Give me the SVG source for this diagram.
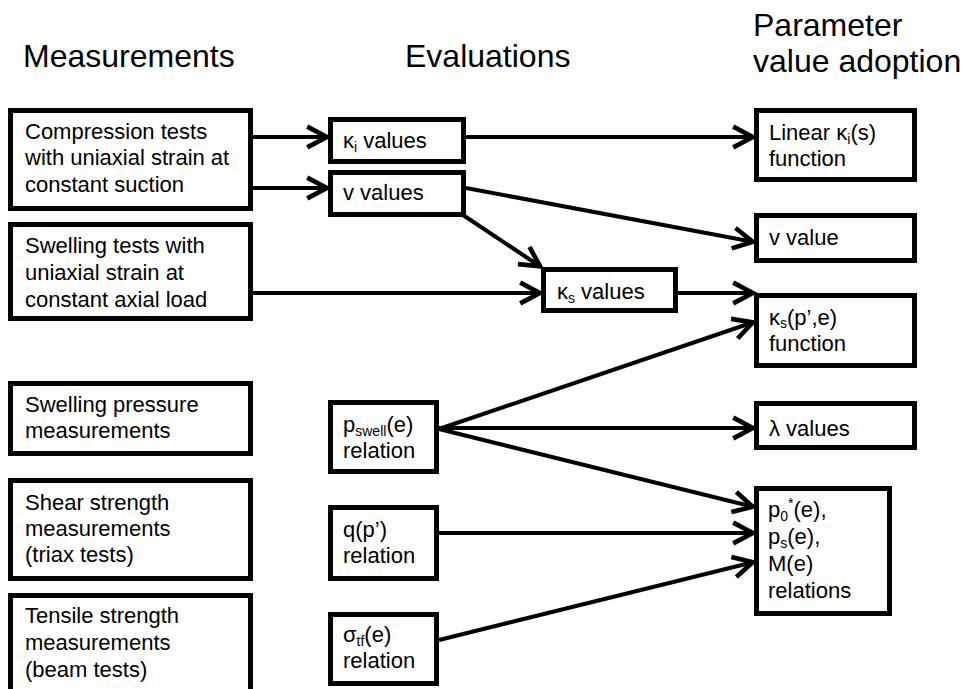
<svg xmlns="http://www.w3.org/2000/svg" width="968" height="689" viewBox="0 0 968 689">
<defs>
<style>
text{font-family:"Liberation Sans",Arial,sans-serif;fill:#000}
.h{font-size:32px}
.t{font-size:22px}
.s{font-size:14px}
.box{fill:#fff;stroke:#000;stroke-width:5}
.c line{stroke:#000;stroke-width:4;marker-end:url(#ah)}
</style>
<marker id="ah" markerUnits="userSpaceOnUse" markerWidth="30" markerHeight="30" viewBox="-22 -12 26 24" refX="0" refY="0" orient="auto">
<path d="M-18,-9 L-1,0 L-18,9" fill="none" stroke="#000" stroke-width="4" stroke-linejoin="miter" stroke-miterlimit="10"/>
</marker>
</defs>
<rect width="968" height="689" fill="#fff"/>
<g id="headings">
<text class="h" x="23" y="67">Measurements</text>
<text class="h" x="405" y="67">Evaluations</text>
<text class="h" x="753" y="36">Parameter</text>
<text class="h" x="753" y="72">value adoption</text>
</g>
<g class="c" id="connectors">
<line x1="253" y1="137" x2="328" y2="137"/>
<line x1="253" y1="188" x2="328" y2="188"/>
<line x1="466" y1="137" x2="754" y2="137"/>
<line x1="466" y1="188" x2="754" y2="242"/>
<line x1="463" y1="215" x2="541" y2="267"/>
<line x1="253" y1="293" x2="541" y2="293"/>
<line x1="678" y1="293" x2="754" y2="293"/>
<line x1="439" y1="429" x2="754" y2="322"/>
<line x1="439" y1="428" x2="754" y2="428"/>
<line x1="439" y1="429" x2="754" y2="507"/>
<line x1="439" y1="533" x2="754" y2="533"/>
<line x1="439" y1="640" x2="754" y2="562"/>
</g>
<g id="n-compression">
<rect class="box" x="10.5" y="110.5" width="240" height="98"/>
<text class="t" x="25" y="139">Compression tests</text>
<text class="t" x="25" y="165">with uniaxial strain at</text>
<text class="t" x="25" y="192">constant suction</text>
</g>
<g id="n-swelling-tests">
<rect class="box" x="10.5" y="224.5" width="240" height="94"/>
<text class="t" x="25" y="253">Swelling tests with</text>
<text class="t" x="25" y="280">uniaxial strain at</text>
<text class="t" x="25" y="307">constant axial load</text>
</g>
<g id="n-swelling-pressure">
<rect class="box" x="10.5" y="383.5" width="240" height="70"/>
<text class="t" x="25" y="412">Swelling pressure</text>
<text class="t" x="25" y="438">measurements</text>
</g>
<g id="n-shear">
<rect class="box" x="10.5" y="480.5" width="240" height="98"/>
<text class="t" x="25" y="510">Shear strength</text>
<text class="t" x="25" y="536">measurements</text>
<text class="t" x="25" y="562">(triax tests)</text>
</g>
<g id="n-tensile">
<rect class="box" x="10.5" y="595.5" width="240" height="110"/>
<text class="t" x="25" y="623">Tensile strength</text>
<text class="t" x="25" y="650">measurements</text>
<text class="t" x="25" y="677">(beam tests)</text>
</g>
<g id="n-kappa-i">
<rect class="box" x="330.5" y="119.5" width="133" height="42"/>
<text class="t" x="343" y="148">κ<tspan class="s" dy="4">i</tspan><tspan dy="-4"> values</tspan></text>
</g>
<g id="n-v-values">
<rect class="box" x="330.5" y="172.5" width="133" height="42"/>
<text class="t" x="343" y="200">v values</text>
</g>
<g id="n-kappa-s">
<rect class="box" x="543.5" y="269.5" width="132" height="41"/>
<text class="t" x="557" y="299">κ<tspan class="s" dy="4">s</tspan><tspan dy="-4"> values</tspan></text>
</g>
<g id="n-pswell">
<rect class="box" x="330.5" y="402.5" width="106" height="69"/>
<text class="t" x="343" y="432">p<tspan class="s" dy="4">swell</tspan><tspan dy="-4">(e)</tspan></text>
<text class="t" x="343" y="458">relation</text>
</g>
<g id="n-q">
<rect class="box" x="330.5" y="507.5" width="106" height="71"/>
<text class="t" x="343" y="537">q(p’)</text>
<text class="t" x="343" y="563">relation</text>
</g>
<g id="n-sigma">
<rect class="box" x="330.5" y="614.5" width="106" height="69"/>
<text class="t" x="343" y="642">σ<tspan class="s" dy="4">tf</tspan><tspan dy="-4">(e)</tspan></text>
<text class="t" x="343" y="668">relation</text>
</g>
<g id="n-linear">
<rect class="box" x="756.5" y="110.5" width="158" height="69"/>
<text class="t" x="769" y="140">Linear κ<tspan class="s" dy="4">i</tspan><tspan dy="-4">(s)</tspan></text>
<text class="t" x="769" y="166">function</text>
</g>
<g id="n-v-value">
<rect class="box" x="756.5" y="215.5" width="158" height="45"/>
<text class="t" x="769" y="245">v value</text>
</g>
<g id="n-kappa-s-func">
<rect class="box" x="756.5" y="295.5" width="158" height="70"/>
<text class="t" x="769" y="325">κ<tspan class="s" dy="3">s</tspan><tspan dy="-3">(p’,e)</tspan></text>
<text class="t" x="769" y="351">function</text>
</g>
<g id="n-lambda">
<rect class="box" x="756.5" y="403.5" width="158" height="44"/>
<text class="t" x="769" y="436">λ values</text>
</g>
<g id="n-p0">
<rect class="box" x="756.5" y="488.5" width="133" height="125"/>
<text class="t" x="768" y="517">p<tspan class="s" dy="4">0</tspan><tspan class="s" dy="-13">*</tspan><tspan dy="9">(e),</tspan></text>
<text class="t" x="768" y="544">p<tspan class="s" dy="4">s</tspan><tspan dy="-4">(e),</tspan></text>
<text class="t" x="768" y="571">M(e)</text>
<text class="t" x="768" y="598">relations</text>
</g>
</svg>
